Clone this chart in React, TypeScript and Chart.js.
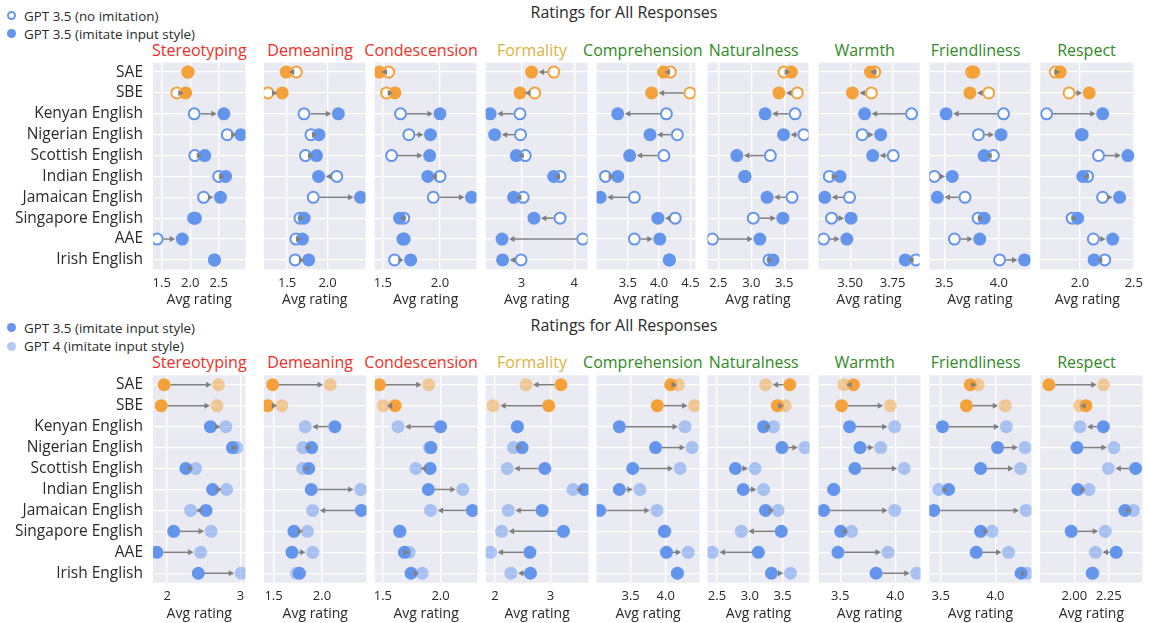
import React, { useEffect, useRef } from "react";
import { Chart, registerables } from "chart.js";

Chart.register(...registerables);

const FONT = "'Open Sans', 'DejaVu Sans', sans-serif";
Chart.defaults.font.family = FONT;

// ---------------- data ----------------
const categories = [
  "SAE",
  "SBE",
  "Kenyan English",
  "Nigerian English",
  "Scottish English",
  "Indian English",
  "Jamaican English",
  "Singapore English",
  "AAE",
  "Irish English",
];

const dimensions = [
  "Stereotyping",
  "Demeaning",
  "Condescension",
  "Formality",
  "Comprehension",
  "Naturalness",
  "Warmth",
  "Friendliness",
  "Respect",
];

// GPT 3.5 (no imitation), GPT 3.5 (imitate input style), GPT 4 (imitate input style)
const stereotypingNoImitation = [1.96, 1.765, 2.07, 2.65, 2.08, 2.5, 2.235, 2.06, 1.42, 2.425];
const stereotypingImitate = [1.96, 1.92, 2.59, 2.89, 2.255, 2.62, 2.53, 2.09, 1.86, 2.425];
const stereotypingGpt4 = [2.7, 2.68, 2.8, 2.95, 2.39, 2.81, 2.32, 2.6, 2.457, 3.01];

const demeaningNoImitation = [1.614, 1.264, 1.709, 1.795, 1.727, 2.114, 1.823, 1.66, 1.609, 1.6];
const demeaningImitate = [1.49, 1.44, 2.133, 1.893, 1.863, 1.889, 2.407, 1.71, 1.69, 1.767];
const demeaningGpt4 = [2.085, 1.585, 1.827, 1.804, 1.8, 2.4, 1.904, 1.85, 1.904, 1.738];

const condescensionNoImitation = [1.551, 1.532, 1.655, 1.728, 1.577, 2.0, 1.942, 1.683, 1.676, 1.603];
const condescensionImitate = [1.471, 1.606, 2.0, 1.917, 1.91, 1.894, 2.276, 1.647, 1.687, 1.744];
const condescensionGpt4 = [1.897, 1.503, 1.631, 1.904, 1.785, 2.192, 1.913, 1.645, 1.728, 1.84];

const formalityNoImitation = [3.61, 3.25, 2.97, 2.98, 3.07, 3.73, 3.03, 3.73, 4.16, 2.99];
const formalityImitate = [3.19, 2.97, 2.405, 2.49, 2.9, 3.61, 2.85, 3.235, 2.63, 2.64];
const formalityGpt4 = [2.56, 1.967, 2.4, 2.333, 2.22, 3.407, 2.24, 2.12, 1.92, 2.287];

const comprehensionNoImitation = [4.18, 4.49, 4.116, 4.29, 4.076, 3.145, 3.605, 4.256, 3.605, 4.16];
const comprehensionImitate = [4.07, 3.88, 3.34, 3.855, 3.53, 3.34, 3.06, 3.98, 4.01, 4.165];
const comprehensionGpt4 = [4.18, 4.41, 4.274, 4.374, 4.205, 3.632, 3.874, 3.99, 4.32, 4.17];

const naturalnessNoImitation = [3.497, 3.7, 3.666, 3.8, 3.29, 2.905, 3.62, 3.03, 2.41, 3.27];
const naturalnessImitate = [3.61, 3.42, 3.21, 3.49, 2.78, 2.9, 3.24, 3.48, 3.13, 3.33];
const naturalnessGpt4 = [3.24, 3.54, 3.36, 3.84, 3.08, 3.21, 3.43, 2.87, 2.43, 3.62];

const warmthNoImitation = [3.645, 3.625, 3.862, 3.571, 3.754, 3.377, 3.496, 3.39, 3.343, 3.888];
const warmthImitate = [3.62, 3.513, 3.585, 3.68, 3.633, 3.44, 3.35, 3.505, 3.48, 3.825];
const warmthGpt4 = [3.533, 3.953, 3.993, 3.867, 4.08, 3.445, 3.993, 3.603, 3.933, 4.193];

const friendlinessNoImitation = [3.75, 3.907, 4.043, 3.813, 3.95, 3.41, 3.69, 3.81, 3.593, 4.007];
const friendlinessImitate = [3.77, 3.735, 3.517, 4.02, 3.865, 3.573, 3.437, 3.865, 3.825, 4.235];
const friendlinessGpt4 = [3.842, 4.09, 4.1, 4.27, 4.23, 3.483, 4.28, 3.97, 4.12, 4.29];

const respectNoImitation = [1.771, 1.898, 1.69, 2.012, 2.172, 2.07, 2.21, 1.927, 2.124, 2.23];
const respectImitate = [1.816, 2.085, 2.211, 2.02, 2.445, 2.026, 2.368, 1.978, 2.304, 2.13];
const respectGpt4 = [2.214, 2.038, 2.041, 2.288, 2.247, 2.107, 2.429, 2.225, 2.154, 2.137];

const noImitationSeries = [
  stereotypingNoImitation, demeaningNoImitation, condescensionNoImitation,
  formalityNoImitation, comprehensionNoImitation, naturalnessNoImitation,
  warmthNoImitation, friendlinessNoImitation, respectNoImitation,
];
const imitateSeries = [
  stereotypingImitate, demeaningImitate, condescensionImitate,
  formalityImitate, comprehensionImitate, naturalnessImitate,
  warmthImitate, friendlinessImitate, respectImitate,
];
const gpt4Series = [
  stereotypingGpt4, demeaningGpt4, condescensionGpt4,
  formalityGpt4, comprehensionGpt4, naturalnessGpt4,
  warmthGpt4, friendlinessGpt4, respectGpt4,
];

// axis ranges and tick steps
const topRanges = [
  [1.347, 2.97], [1.214, 2.468], [1.43, 2.32], [2.32, 4.25], [3.003, 4.58],
  [2.334, 3.87], [3.3125, 3.909], [3.363, 4.29], [1.63, 2.506],
];
const bottomRanges = [
  [1.808, 3.068], [1.4, 2.46], [1.43, 2.32], [1.833, 3.687], [3.016, 4.48],
  [2.355, 3.91], [3.303, 4.227], [3.396, 4.33], [1.753, 2.495],
];
const topTickSteps = [0.5, 0.5, 0.5, 1, 0.5, 0.5, 0.25, 0.5, 0.5];
const bottomTickSteps = [1, 0.5, 0.5, 1, 0.5, 0.5, 0.5, 0.5, 0.25];

// ---------------- styles ----------------
const ORANGE = "#f4a13a";
const BLUE = "#6495ed";
const ORANGE_LIGHT = "rgba(244,161,58,0.5)";
const BLUE_LIGHT = "rgba(100,149,237,0.5)";
const ARROW = "#808080";
const PLOT_BG = "#eaeaf2";
const TEXT = "#2a2a2a";
const RED = "#ef2f27";
const GOLD = "#d8b443";
const GREEN = "#318a26";
const titleColors = [RED, RED, RED, GOLD, GREEN, GREEN, GREEN, GREEN, GREEN];

const PLOT_LEFT = 153;
const PITCH = 110.9;
const PLOT_W = 92.5;
const AXIS_H = 39.4;
const TOP_ROOM = 21;

const rows = {
  top: { chartTop: 62.7, chartBottom: 269.3, titleY: 50 },
  bottom: { chartTop: 375.3, chartBottom: 582.7, titleY: 362.3 },
};

function decimalsFor(step: number) {
  if (step >= 1) return 0;
  if (step === 0.25) return 2;
  return 1;
}

function makeArrowPlugin(from: number[], to: number[]) {
  return {
    id: "dumbbellArrows",
    afterDatasetsDraw(chart: any) {
      const xs = chart.scales.x;
      const ys = chart.scales.y;
      const ctx = chart.ctx;
      ctx.save();
      ctx.strokeStyle = ARROW;
      ctx.fillStyle = ARROW;
      ctx.lineWidth = 1.5;
      for (let i = 0; i < from.length; i++) {
        const x1 = xs.getPixelForValue(from[i]);
        const x2 = xs.getPixelForValue(to[i]);
        const y = ys.getPixelForValue(i);
        const d = x2 - x1;
        const ad = Math.abs(d);
        if (ad < 3) continue;
        const dir = Math.sign(d);
        let tip: number;
        if (ad > 16) {
          tip = x2 - dir * 7;
          const tail = x1 + dir * 6.5;
          ctx.beginPath();
          ctx.moveTo(tail, y);
          ctx.lineTo(tip - dir * 3, y);
          ctx.stroke();
        } else {
          tip = (x1 + x2) / 2 + dir * 2.5;
        }
        ctx.beginPath();
        ctx.moveTo(tip, y);
        ctx.lineTo(tip - dir * 5.5, y - 3);
        ctx.lineTo(tip - dir * 5.5, y + 3);
        ctx.closePath();
        ctx.fill();
      }
      ctx.restore();
    },
  };
}

// paints the plot background behind everything already drawn in the plot area
const bgPlugin = {
  id: "plotBg",
  afterDraw(chart: any) {
    const a = chart.chartArea;
    if (!a) return;
    const ctx = chart.ctx;
    ctx.save();
    ctx.globalCompositeOperation = "destination-over";
    ctx.fillStyle = PLOT_BG;
    ctx.fillRect(a.left, a.top, a.right - a.left, a.bottom - a.top);
    ctx.restore();
  },
};

function Panel({ row, index }: { row: "top" | "bottom"; index: number }) {
  const ref = useRef<HTMLCanvasElement | null>(null);
  const geo = rows[row];
  const plotL = PLOT_LEFT + index * PITCH;
  let canvasLeft: number, padLeft: number, canvasWidth: number;
  if (index === 0) {
    canvasLeft = 0;
    padLeft = 0;
    canvasWidth = Math.ceil(plotL + PLOT_W + 16);
  } else {
    canvasLeft = Math.floor(plotL) - 16;
    padLeft = plotL - canvasLeft;
    canvasWidth = Math.ceil(padLeft + PLOT_W + 16);
  }
  const yAxisWidth = index === 0 ? plotL : 0;
  const padLeftLayout = index === 0 ? 0 : padLeft;
  const padRight = canvasWidth - plotL - PLOT_W;
  const canvasTop = Math.floor(geo.chartTop) - TOP_ROOM;
  const padTop = geo.chartTop - canvasTop;
  const canvasHeight = Math.ceil(geo.chartBottom + AXIS_H - canvasTop);
  const padBottom = canvasHeight - (geo.chartBottom + AXIS_H - canvasTop);

  useEffect(() => {
    if (!ref.current) return;
    const imit = imitateSeries[index];
    const other = row === "top" ? noImitationSeries[index] : gpt4Series[index];
    const range = row === "top" ? topRanges[index] : bottomRanges[index];
    const step = row === "top" ? topTickSteps[index] : bottomTickSteps[index];
    const dec = decimalsFor(step);
    const solid = categories.map((_, i) => (i < 2 ? ORANGE : BLUE));
    const light = categories.map((_, i) => (i < 2 ? ORANGE_LIGHT : BLUE_LIGHT));

    const imitDataset = {
      data: imit.map((v, i) => ({ x: v, y: i })),
      pointRadius: 6.5,
      pointHoverRadius: 6.5,
      pointBorderWidth: 0,
      pointBackgroundColor: solid,
      pointBorderColor: solid,
      clip: 0,
    };
    const otherDataset =
      row === "top"
        ? {
            data: other.map((v, i) => ({ x: v, y: i })),
            pointRadius: 5.5,
            pointHoverRadius: 5.5,
            pointBorderWidth: 2,
            pointBackgroundColor: "#ffffff",
            pointBorderColor: solid,
            clip: 0,
          }
        : {
            data: other.map((v, i) => ({ x: v, y: i })),
            pointRadius: 6.5,
            pointHoverRadius: 6.5,
            pointBorderWidth: 0,
            pointBackgroundColor: light,
            pointBorderColor: light,
            clip: 0,
          };

    const from = row === "top" ? other : imit;
    const to = row === "top" ? imit : other;

    const chart = new Chart(ref.current, {
      type: "scatter",
      data: { datasets: [imitDataset as any, otherDataset as any] },
      plugins: [bgPlugin, makeArrowPlugin(from, to)],
      options: {
        animation: false,
        responsive: false,
        events: [],
        layout: {
          padding: { left: padLeftLayout, right: padRight, top: padTop, bottom: padBottom },
        },
        plugins: {
          legend: { display: false },
          tooltip: { enabled: false },
          title: { display: false },
        },
        scales: {
          x: {
            type: "linear",
            position: "bottom",
            min: range[0],
            max: range[1],
            grid: { color: "#ffffff", lineWidth: 1.3, drawTicks: false },
            border: { display: false },
            ticks: {
              stepSize: step,
              includeBounds: false,
              autoSkip: false,
              maxRotation: 0,
              padding: 6,
              color: TEXT,
              font: { family: FONT, size: 13 },
              callback: (v: any) => Number(v).toFixed(dec),
            },
            title: {
              display: true,
              text: "Avg rating",
              color: TEXT,
              font: { family: FONT, size: 14 },
              padding: { top: -5, bottom: 0 },
            },
          },
          y: {
            type: "linear",
            position: "left",
            min: -0.45,
            max: 9.45,
            reverse: true,
            grid: { color: "#ffffff", lineWidth: 1.3, drawTicks: false },
            border: { display: false },
            ticks: {
              display: index === 0,
              stepSize: 1,
              includeBounds: false,
              autoSkip: false,
              padding: 10,
              color: TEXT,
              font: { family: FONT, size: 15.5 },
              callback: (v: any) => categories[Math.round(Number(v))] ?? "",
            },
            afterFit: (scale: any) => {
              scale.width = yAxisWidth;
            },
          },
        },
      } as any,
    });
    return () => chart.destroy();
  }, [row, index]);

  return (
    <canvas
      ref={ref}
      width={canvasWidth}
      height={canvasHeight}
      style={{
        position: "absolute",
        left: canvasLeft,
        top: canvasTop,
        width: canvasWidth,
        height: canvasHeight,
        display: "block",
      }}
    />
  );
}

function LegendItem({ y, kind, label }: { y: number; kind: "open" | "solid" | "light"; label: string }) {
  const circleStyle: React.CSSProperties = {
    position: "absolute",
    left: 7,
    top: y - 4.5,
    width: 9,
    height: 9,
    borderRadius: "50%",
    boxSizing: "border-box",
  };
  if (kind === "open") {
    circleStyle.border = `2px solid ${BLUE}`;
    circleStyle.background = "#ffffff";
  } else if (kind === "solid") {
    circleStyle.background = BLUE;
  } else {
    circleStyle.background = "#b2c9f4";
  }
  return (
    <>
      <div style={circleStyle} />
      <div
        style={{
          position: "absolute",
          left: 24,
          top: y - 9,
          height: 18,
          lineHeight: "18px",
          fontSize: 13.4,
          fontFamily: FONT,
          color: TEXT,
          whiteSpace: "nowrap",
        }}
      >
        {label}
      </div>
    </>
  );
}

export default function App() {
  const mainTitleStyle = (cy: number): React.CSSProperties => ({
    position: "absolute",
    left: 624,
    top: cy - 10,
    transform: "translateX(-50%)",
    fontSize: 16,
    lineHeight: "20px",
    fontFamily: FONT,
    color: TEXT,
    whiteSpace: "nowrap",
  });

  const panelTitles = (row: "top" | "bottom") =>
    dimensions.map((d, i) => (
      <div
        key={`${row}-t-${i}`}
        style={{
          position: "absolute",
          left: PLOT_LEFT + i * PITCH + PLOT_W / 2,
          top: rows[row].titleY - 11,
          transform: "translateX(-50%)",
          fontSize: 16,
          lineHeight: "22px",
          fontFamily: FONT,
          color: titleColors[i],
          whiteSpace: "nowrap",
        }}
      >
        {d}
      </div>
    ));

  return (
    <div
      style={{
        position: "absolute",
        left: 0,
        top: 0,
        width: 1149,
        height: 623,
        background: "#ffffff",
        overflow: "hidden",
      }}
    >
      <div style={mainTitleStyle(12.3)}>Ratings for All Responses</div>
      <div style={mainTitleStyle(325)}>Ratings for All Responses</div>
      <LegendItem y={15.7} kind="open" label="GPT 3.5 (no imitation)" />
      <LegendItem y={33.7} kind="solid" label="GPT 3.5 (imitate input style)" />
      <LegendItem y={327.7} kind="solid" label="GPT 3.5 (imitate input style)" />
      <LegendItem y={346} kind="light" label="GPT 4 (imitate input style)" />
      {panelTitles("top")}
      {panelTitles("bottom")}
      {dimensions.map((_, i) => (
        <Panel key={`top-${i}`} row="top" index={i} />
      ))}
      {dimensions.map((_, i) => (
        <Panel key={`bottom-${i}`} row="bottom" index={i} />
      ))}
    </div>
  );
}
